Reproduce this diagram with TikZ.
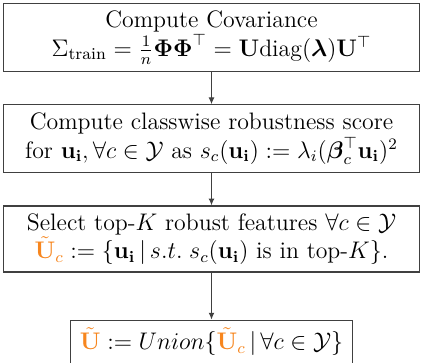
\documentclass[tikz,border=0pt]{standalone}
\usepackage{amsmath}
\usepackage{amssymb}
\usepackage{xcolor}
\usepackage{tikz}
\usetikzlibrary{arrows.meta,positioning}
\definecolor{featorange}{RGB}{247,134,30}
\tikzset{
  procbox/.style={rectangle,draw=black!75,line width=0.6pt,fill=white,minimum width=208pt,minimum height=34pt,align=center,inner sep=2pt,font=\fontsize{11.9}{14.2}\selectfont},
  unionbox/.style={rectangle,draw=black!75,line width=0.6pt,fill=white,minimum height=21.5pt,align=center,inner xsep=4.5pt,font=\fontsize{11.9}{14.2}\selectfont},
  arrow/.style={-{Latex[length=3.4pt,width=3pt]},line width=0.6pt,draw=black!75}
}
\newcommand{\feat}[1]{\textcolor{featorange}{#1}}

\begin{document}
\begin{tikzpicture}[node distance=16pt]
  \useasboundingbox (-105.75pt,1.5pt) rectangle (105.75pt,-180pt);
  \node[procbox,anchor=north] (cov) at (0,0) {Compute Covariance\\
    $\Sigma_{\text{train}}=\frac{1}{n}\boldsymbol{\Phi}\boldsymbol{\Phi}^{\top}=\mathbf{U}\text{diag}(\boldsymbol{\lambda})\mathbf{U}^{\top}$};
  \node[procbox,below=of cov] (score) {Compute classwise robustness score\\
    for $\mathbf{u_i},\forall c\in\mathcal{Y}$ as $s_c(\mathbf{u_i}):=\lambda_i(\boldsymbol{\beta}_c^{\top}\mathbf{u_i})^2$};
  \node[procbox,minimum height=33pt,below=of score] (select) {Select top-$K$ robust features $\forall c\in\mathcal{Y}$\\
    $\feat{\tilde{\mathbf{U}}_c}:=\{\mathbf{u_i}\,|\,s.t.\;s_c(\mathbf{u_i})\text{ is in top-}K\}$.};
  \node[unionbox,below=23.5pt of select] (union) {$\feat{\tilde{\mathbf{U}}}:=Union\{\feat{\tilde{\mathbf{U}}_c}\,|\,\forall c\in\mathcal{Y}\}$};

  \draw[arrow] (cov) -- (score);
  \draw[arrow] (score) -- (select);
  \draw[arrow] (select) -- (union);
\end{tikzpicture}
\end{document}
